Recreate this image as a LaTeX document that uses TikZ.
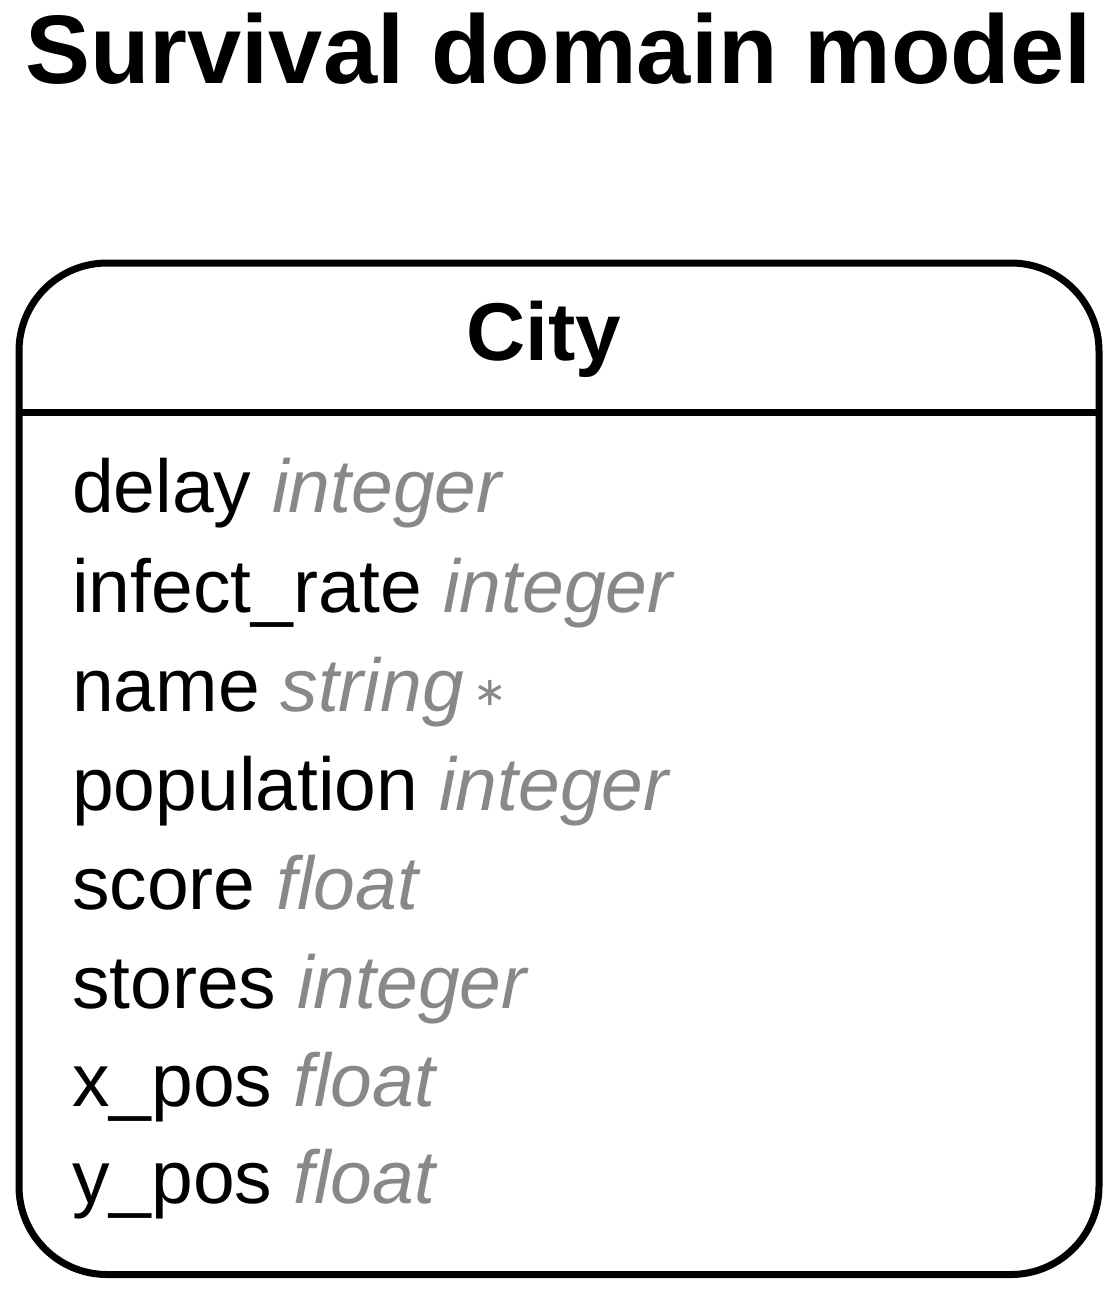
\documentclass[tikz,border=0pt]{standalone}
\usepackage{fontspec}
\setmainfont{Liberation Sans}
\newfontfamily\symbolfont{DejaVu Sans}
\definecolor{typegray}{HTML}{888888}

\begin{document}
\begin{tikzpicture}[x=1pt,y=-1pt,
    entity/.style={draw,line width=7pt,rounded corners=88pt,inner sep=0,outer sep=0,anchor=north west},
    attr/.style={anchor=base west,inner sep=0,font=\fontsize{75}{75}\selectfont}]
    \pgfmathsetmacro{\boxwidth}{1080}
    \pgfmathsetmacro{\boxheight}{1011.5}
    \useasboundingbox (0,0) rectangle (1110,1301);
    \node[anchor=base,inner sep=0,font=\bfseries\fontsize{97.4}{97.4}\selectfont] (title) at (558.5,83) {Survival domain model};
    \node[entity,minimum width=\boxwidth pt,minimum height=\boxheight pt] (city) at (19,263) {};
    \coordinate (divider) at (0,412.5);
    \draw[line width=7pt] (city.west |- divider) -- (city.east |- divider);
    \node[anchor=base,inner sep=0,font=\bfseries\fontsize{82}{82}\selectfont] (cityname) at (543.5,360) {City};
    % attributes
    \foreach \attrname/\attrtype/\ypos [count=\i] in {delay/integer/512.5,infect\_rate/integer/612,name/string/711,population/integer/810.5,score/float/909.5,stores/integer/1008,x\_pos/float/1106,y\_pos/float/1203}
        \node[attr] (attr-\i) at (72,\ypos) {\attrname\ {\color{typegray}\itshape\attrtype}};
    \node[anchor=center,inner sep=0,text=typegray,font=\symbolfont\fontsize{40}{40}\selectfont] (required) at ([xshift=26pt,yshift=18pt]attr-3.base east) {∗};
\end{tikzpicture}
\end{document}
